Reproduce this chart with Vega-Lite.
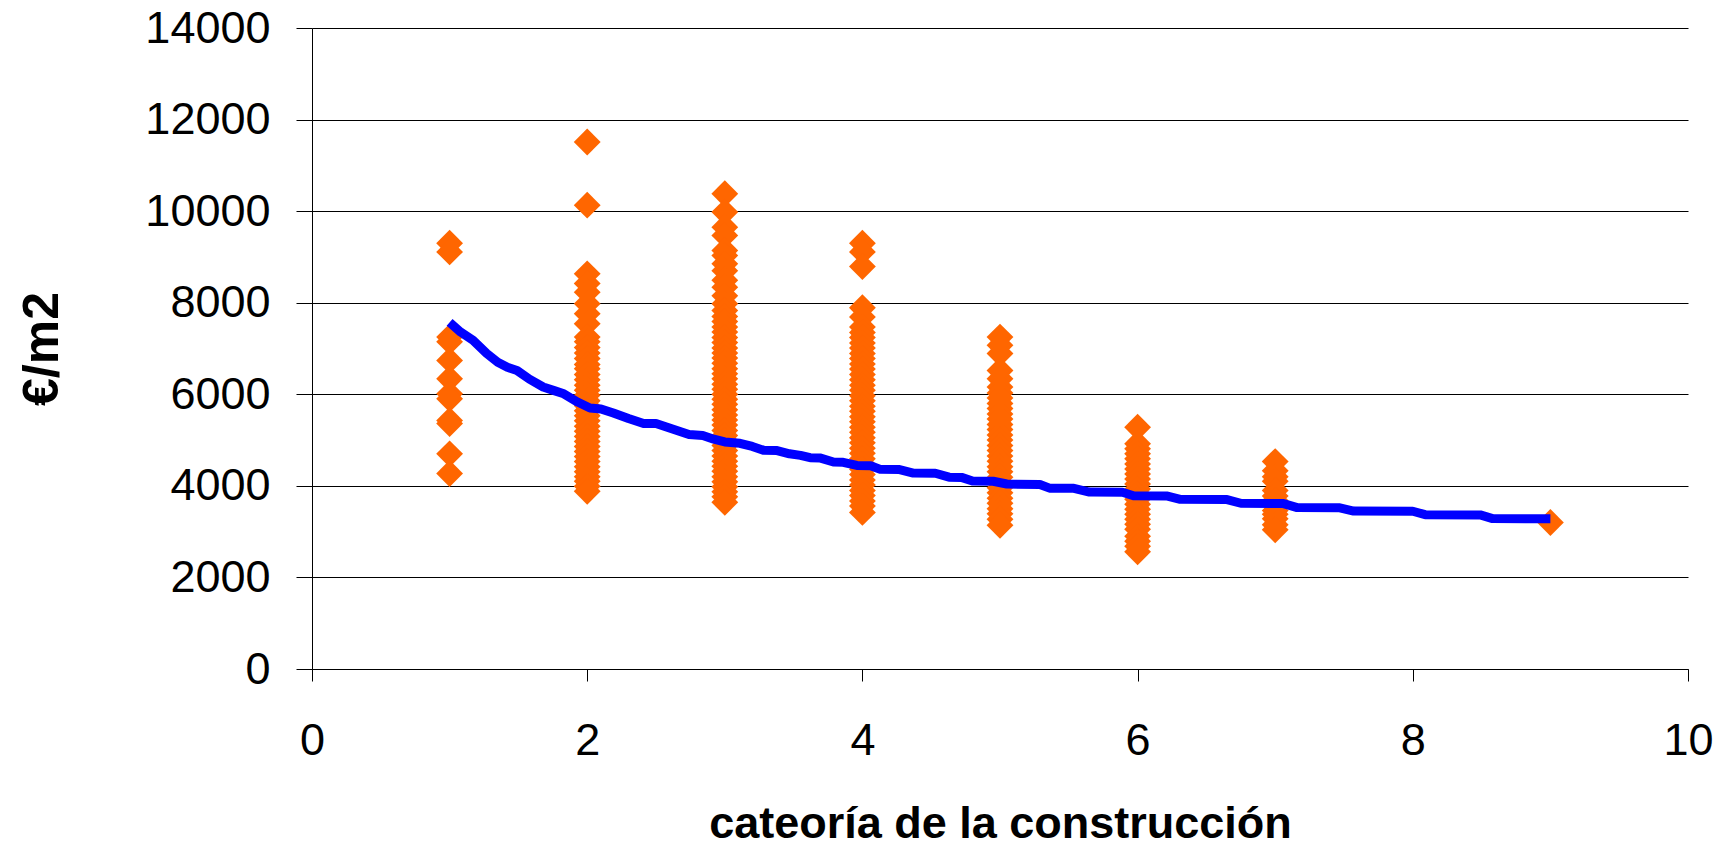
{
  "$schema": "https://vega.github.io/schema/vega-lite/v6.json",
  "width": 1376,
  "height": 641,
  "autosize": {"type": "none"},
  "padding": {"left": 312, "top": 28, "right": 42, "bottom": 180},
  "background": "white",
  "config": {"view": {"stroke": null}, "font": "Liberation Sans"},
  "datasets": {
    "points": [
      {"categoria": 1, "eur_m2": 9300}, {"categoria": 1, "eur_m2": 9110}, {"categoria": 1, "eur_m2": 7250}, {"categoria": 1, "eur_m2": 7150},
      {"categoria": 1, "eur_m2": 6740}, {"categoria": 1, "eur_m2": 6340}, {"categoria": 1, "eur_m2": 6010}, {"categoria": 1, "eur_m2": 5900},
      {"categoria": 1, "eur_m2": 5430}, {"categoria": 1, "eur_m2": 5360}, {"categoria": 1, "eur_m2": 4700}, {"categoria": 1, "eur_m2": 4270},
      {"categoria": 2, "eur_m2": 11510}, {"categoria": 2, "eur_m2": 10130}, {"categoria": 2, "eur_m2": 8630}, {"categoria": 2, "eur_m2": 8420},
      {"categoria": 2, "eur_m2": 8230}, {"categoria": 2, "eur_m2": 7980}, {"categoria": 2, "eur_m2": 7760}, {"categoria": 2, "eur_m2": 7540},
      {"categoria": 2, "eur_m2": 7250}, {"categoria": 2, "eur_m2": 7150}, {"categoria": 2, "eur_m2": 7020}, {"categoria": 2, "eur_m2": 6900},
      {"categoria": 2, "eur_m2": 6780}, {"categoria": 2, "eur_m2": 6650}, {"categoria": 2, "eur_m2": 6560}, {"categoria": 2, "eur_m2": 6430},
      {"categoria": 2, "eur_m2": 6320}, {"categoria": 2, "eur_m2": 6200}, {"categoria": 2, "eur_m2": 6090}, {"categoria": 2, "eur_m2": 5980},
      {"categoria": 2, "eur_m2": 5860}, {"categoria": 2, "eur_m2": 5750}, {"categoria": 2, "eur_m2": 5640}, {"categoria": 2, "eur_m2": 5530},
      {"categoria": 2, "eur_m2": 5420}, {"categoria": 2, "eur_m2": 5300}, {"categoria": 2, "eur_m2": 5190}, {"categoria": 2, "eur_m2": 5080},
      {"categoria": 2, "eur_m2": 4970}, {"categoria": 2, "eur_m2": 4860}, {"categoria": 2, "eur_m2": 4750}, {"categoria": 2, "eur_m2": 4640},
      {"categoria": 2, "eur_m2": 4530}, {"categoria": 2, "eur_m2": 4420}, {"categoria": 2, "eur_m2": 4310}, {"categoria": 2, "eur_m2": 4200},
      {"categoria": 2, "eur_m2": 4100}, {"categoria": 2, "eur_m2": 3990}, {"categoria": 2, "eur_m2": 3880},
      {"categoria": 3, "eur_m2": 10380}, {"categoria": 3, "eur_m2": 9980}, {"categoria": 3, "eur_m2": 9650}, {"categoria": 3, "eur_m2": 9470},
      {"categoria": 3, "eur_m2": 9140}, {"categoria": 3, "eur_m2": 9030}, {"categoria": 3, "eur_m2": 8850}, {"categoria": 3, "eur_m2": 8700},
      {"categoria": 3, "eur_m2": 8490}, {"categoria": 3, "eur_m2": 8340}, {"categoria": 3, "eur_m2": 8150}, {"categoria": 3, "eur_m2": 7980},
      {"categoria": 3, "eur_m2": 7830}, {"categoria": 3, "eur_m2": 7700}, {"categoria": 3, "eur_m2": 7590}, {"categoria": 3, "eur_m2": 7470},
      {"categoria": 3, "eur_m2": 7360}, {"categoria": 3, "eur_m2": 7240}, {"categoria": 3, "eur_m2": 7130}, {"categoria": 3, "eur_m2": 7010},
      {"categoria": 3, "eur_m2": 6900}, {"categoria": 3, "eur_m2": 6790}, {"categoria": 3, "eur_m2": 6680}, {"categoria": 3, "eur_m2": 6560},
      {"categoria": 3, "eur_m2": 6450}, {"categoria": 3, "eur_m2": 6340}, {"categoria": 3, "eur_m2": 6220}, {"categoria": 3, "eur_m2": 6110},
      {"categoria": 3, "eur_m2": 6000}, {"categoria": 3, "eur_m2": 5890}, {"categoria": 3, "eur_m2": 5780}, {"categoria": 3, "eur_m2": 5660},
      {"categoria": 3, "eur_m2": 5550}, {"categoria": 3, "eur_m2": 5440}, {"categoria": 3, "eur_m2": 5330}, {"categoria": 3, "eur_m2": 5210},
      {"categoria": 3, "eur_m2": 5100}, {"categoria": 3, "eur_m2": 4990}, {"categoria": 3, "eur_m2": 4880}, {"categoria": 3, "eur_m2": 4770},
      {"categoria": 3, "eur_m2": 4650}, {"categoria": 3, "eur_m2": 4540}, {"categoria": 3, "eur_m2": 4430}, {"categoria": 3, "eur_m2": 4320},
      {"categoria": 3, "eur_m2": 4200}, {"categoria": 3, "eur_m2": 4090}, {"categoria": 3, "eur_m2": 3980}, {"categoria": 3, "eur_m2": 3870},
      {"categoria": 3, "eur_m2": 3760}, {"categoria": 3, "eur_m2": 3640},
      {"categoria": 4, "eur_m2": 9300}, {"categoria": 4, "eur_m2": 9110}, {"categoria": 4, "eur_m2": 8790}, {"categoria": 4, "eur_m2": 7890},
      {"categoria": 4, "eur_m2": 7690}, {"categoria": 4, "eur_m2": 7470}, {"categoria": 4, "eur_m2": 7350}, {"categoria": 4, "eur_m2": 7240},
      {"categoria": 4, "eur_m2": 7120}, {"categoria": 4, "eur_m2": 7010}, {"categoria": 4, "eur_m2": 6890}, {"categoria": 4, "eur_m2": 6780},
      {"categoria": 4, "eur_m2": 6660}, {"categoria": 4, "eur_m2": 6550}, {"categoria": 4, "eur_m2": 6430}, {"categoria": 4, "eur_m2": 6320},
      {"categoria": 4, "eur_m2": 6200}, {"categoria": 4, "eur_m2": 6090}, {"categoria": 4, "eur_m2": 5970}, {"categoria": 4, "eur_m2": 5860},
      {"categoria": 4, "eur_m2": 5740}, {"categoria": 4, "eur_m2": 5630}, {"categoria": 4, "eur_m2": 5510}, {"categoria": 4, "eur_m2": 5400},
      {"categoria": 4, "eur_m2": 5280}, {"categoria": 4, "eur_m2": 5170}, {"categoria": 4, "eur_m2": 5050}, {"categoria": 4, "eur_m2": 4940},
      {"categoria": 4, "eur_m2": 4820}, {"categoria": 4, "eur_m2": 4710}, {"categoria": 4, "eur_m2": 4590}, {"categoria": 4, "eur_m2": 4480},
      {"categoria": 4, "eur_m2": 4360}, {"categoria": 4, "eur_m2": 4250}, {"categoria": 4, "eur_m2": 4130}, {"categoria": 4, "eur_m2": 4020},
      {"categoria": 4, "eur_m2": 3900}, {"categoria": 4, "eur_m2": 3790}, {"categoria": 4, "eur_m2": 3670}, {"categoria": 4, "eur_m2": 3560},
      {"categoria": 4, "eur_m2": 3420},
      {"categoria": 5, "eur_m2": 7250}, {"categoria": 5, "eur_m2": 7070}, {"categoria": 5, "eur_m2": 6890}, {"categoria": 5, "eur_m2": 6520},
      {"categoria": 5, "eur_m2": 6340}, {"categoria": 5, "eur_m2": 6160}, {"categoria": 5, "eur_m2": 6030}, {"categoria": 5, "eur_m2": 5920},
      {"categoria": 5, "eur_m2": 5800}, {"categoria": 5, "eur_m2": 5690}, {"categoria": 5, "eur_m2": 5570}, {"categoria": 5, "eur_m2": 5460},
      {"categoria": 5, "eur_m2": 5340}, {"categoria": 5, "eur_m2": 5230}, {"categoria": 5, "eur_m2": 5110}, {"categoria": 5, "eur_m2": 5000},
      {"categoria": 5, "eur_m2": 4880}, {"categoria": 5, "eur_m2": 4770}, {"categoria": 5, "eur_m2": 4650}, {"categoria": 5, "eur_m2": 4540},
      {"categoria": 5, "eur_m2": 4420}, {"categoria": 5, "eur_m2": 4310}, {"categoria": 5, "eur_m2": 4190}, {"categoria": 5, "eur_m2": 4080},
      {"categoria": 5, "eur_m2": 3960}, {"categoria": 5, "eur_m2": 3850}, {"categoria": 5, "eur_m2": 3730}, {"categoria": 5, "eur_m2": 3620},
      {"categoria": 5, "eur_m2": 3500}, {"categoria": 5, "eur_m2": 3390}, {"categoria": 5, "eur_m2": 3270}, {"categoria": 5, "eur_m2": 3140},
      {"categoria": 6, "eur_m2": 5280}, {"categoria": 6, "eur_m2": 4920}, {"categoria": 6, "eur_m2": 4810}, {"categoria": 6, "eur_m2": 4700},
      {"categoria": 6, "eur_m2": 4590}, {"categoria": 6, "eur_m2": 4480}, {"categoria": 6, "eur_m2": 4370}, {"categoria": 6, "eur_m2": 4260},
      {"categoria": 6, "eur_m2": 4150}, {"categoria": 6, "eur_m2": 4040}, {"categoria": 6, "eur_m2": 3930}, {"categoria": 6, "eur_m2": 3820},
      {"categoria": 6, "eur_m2": 3710}, {"categoria": 6, "eur_m2": 3600}, {"categoria": 6, "eur_m2": 3490}, {"categoria": 6, "eur_m2": 3380},
      {"categoria": 6, "eur_m2": 3270}, {"categoria": 6, "eur_m2": 3160}, {"categoria": 6, "eur_m2": 3050}, {"categoria": 6, "eur_m2": 2900},
      {"categoria": 6, "eur_m2": 2790}, {"categoria": 6, "eur_m2": 2680}, {"categoria": 6, "eur_m2": 2560},
      {"categoria": 7, "eur_m2": 4530}, {"categoria": 7, "eur_m2": 4330}, {"categoria": 7, "eur_m2": 4200}, {"categoria": 7, "eur_m2": 4100},
      {"categoria": 7, "eur_m2": 3900}, {"categoria": 7, "eur_m2": 3780}, {"categoria": 7, "eur_m2": 3680}, {"categoria": 7, "eur_m2": 3460},
      {"categoria": 7, "eur_m2": 3380}, {"categoria": 7, "eur_m2": 3280}, {"categoria": 7, "eur_m2": 3150}, {"categoria": 7, "eur_m2": 3040},
      {"categoria": 9, "eur_m2": 3200}
    ],
    "trend": [
      {"categoria": 1.00, "eur_m2": 7570}, {"categoria": 1.08, "eur_m2": 7360}, {"categoria": 1.17, "eur_m2": 7180},
      {"categoria": 1.27, "eur_m2": 6890}, {"categoria": 1.35, "eur_m2": 6700}, {"categoria": 1.42, "eur_m2": 6590},
      {"categoria": 1.49, "eur_m2": 6520}, {"categoria": 1.58, "eur_m2": 6330}, {"categoria": 1.68, "eur_m2": 6160},
      {"categoria": 1.76, "eur_m2": 6080}, {"categoria": 1.83, "eur_m2": 6010}, {"categoria": 1.93, "eur_m2": 5830},
      {"categoria": 2.02, "eur_m2": 5700}, {"categoria": 2.10, "eur_m2": 5680}, {"categoria": 2.19, "eur_m2": 5590},
      {"categoria": 2.30, "eur_m2": 5470}, {"categoria": 2.41, "eur_m2": 5360}, {"categoria": 2.50, "eur_m2": 5360},
      {"categoria": 2.62, "eur_m2": 5240}, {"categoria": 2.74, "eur_m2": 5120}, {"categoria": 2.84, "eur_m2": 5100},
      {"categoria": 2.92, "eur_m2": 5020}, {"categoria": 3.00, "eur_m2": 4960}, {"categoria": 3.11, "eur_m2": 4930},
      {"categoria": 3.20, "eur_m2": 4860}, {"categoria": 3.28, "eur_m2": 4780}, {"categoria": 3.38, "eur_m2": 4770},
      {"categoria": 3.47, "eur_m2": 4700}, {"categoria": 3.55, "eur_m2": 4665}, {"categoria": 3.62, "eur_m2": 4614},
      {"categoria": 3.69, "eur_m2": 4610}, {"categoria": 3.79, "eur_m2": 4520}, {"categoria": 3.86, "eur_m2": 4515},
      {"categoria": 3.96, "eur_m2": 4447}, {"categoria": 4.06, "eur_m2": 4440}, {"categoria": 4.13, "eur_m2": 4360},
      {"categoria": 4.27, "eur_m2": 4355}, {"categoria": 4.37, "eur_m2": 4280}, {"categoria": 4.53, "eur_m2": 4275},
      {"categoria": 4.63, "eur_m2": 4190}, {"categoria": 4.72, "eur_m2": 4185}, {"categoria": 4.80, "eur_m2": 4104},
      {"categoria": 4.95, "eur_m2": 4100}, {"categoria": 5.05, "eur_m2": 4040}, {"categoria": 5.29, "eur_m2": 4030},
      {"categoria": 5.36, "eur_m2": 3950}, {"categoria": 5.53, "eur_m2": 3948}, {"categoria": 5.65, "eur_m2": 3865},
      {"categoria": 5.89, "eur_m2": 3860}, {"categoria": 5.97, "eur_m2": 3785}, {"categoria": 6.21, "eur_m2": 3780},
      {"categoria": 6.31, "eur_m2": 3705}, {"categoria": 6.65, "eur_m2": 3700}, {"categoria": 6.75, "eur_m2": 3620},
      {"categoria": 7.06, "eur_m2": 3612}, {"categoria": 7.16, "eur_m2": 3525}, {"categoria": 7.47, "eur_m2": 3520},
      {"categoria": 7.57, "eur_m2": 3450}, {"categoria": 8.00, "eur_m2": 3445}, {"categoria": 8.09, "eur_m2": 3370},
      {"categoria": 8.49, "eur_m2": 3365}, {"categoria": 8.58, "eur_m2": 3285}, {"categoria": 9.00, "eur_m2": 3280}
    ]
  },
  "layer": [
    {
      "data": {"name": "points"},
      "mark": {"type": "point", "shape": "diamond", "filled": true, "size": 720, "color": "#FF6600", "opacity": 1, "strokeWidth": 0},
      "encoding": {
        "x": {
          "field": "categoria", "type": "quantitative",
          "scale": {"domain": [0, 10], "nice": false},
          "axis": {
            "title": "cateoría de la construcción",
            "values": [0, 2, 4, 6, 8, 10],
            "format": "d",
            "grid": false,
            "domainColor": "#000000", "domainWidth": 1,
            "tickColor": "#000000", "tickSize": 12, "tickWidth": 1,
            "labelFont": "Liberation Sans", "labelFontSize": 45, "labelColor": "#000000", "labelPadding": 37,
            "labelFlush": false, "labelOverlap": false,
            "titleFont": "Liberation Sans", "titleFontSize": 45, "titleFontWeight": "bold", "titleColor": "#000000",
            "titleY": 154, "titleBaseline": "middle"
          }
        },
        "y": {
          "field": "eur_m2", "type": "quantitative",
          "scale": {"domain": [0, 14000], "nice": false},
          "axis": {
            "title": "€/m2",
            "values": [0, 2000, 4000, 6000, 8000, 10000, 12000, 14000],
            "format": "d",
            "grid": true, "gridColor": "#000000", "gridWidth": 1, "gridOpacity": 1,
            "domainColor": "#000000", "domainWidth": 1,
            "tickColor": "#000000", "tickSize": 16, "tickWidth": 1,
            "labelFont": "Liberation Sans", "labelFontSize": 45, "labelColor": "#000000", "labelPadding": 26,
            "labelFlush": false, "labelOverlap": false,
            "titleFont": "Liberation Sans", "titleFontSize": 50, "titleFontWeight": "bold", "titleColor": "#000000",
            "titleX": -270, "titleY": 320.5, "titleAngle": -90, "titleAlign": "center", "titleBaseline": "middle"
          }
        }
      }
    },
    {
      "data": {"name": "trend"},
      "mark": {"type": "line", "color": "#0000FF", "strokeWidth": 9, "strokeJoin": "round", "strokeCap": "butt"},
      "encoding": {
        "x": {"field": "categoria", "type": "quantitative"},
        "y": {"field": "eur_m2", "type": "quantitative"}
      }
    }
  ]
}
